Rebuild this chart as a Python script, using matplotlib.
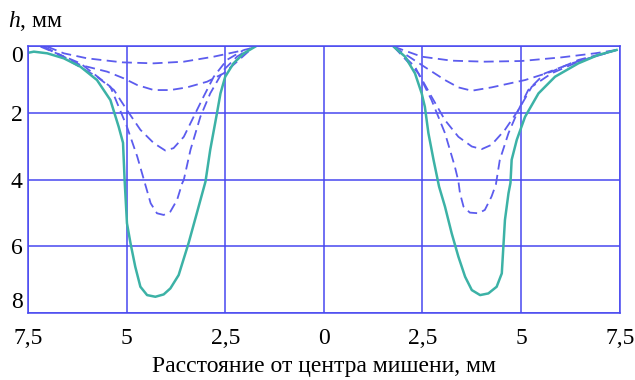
import numpy as np
import matplotlib.pyplot as plt

plt.rcParams['font.family'] = ['Liberation Serif', 'DejaVu Serif']
plt.rcParams['mathtext.fontset'] = 'custom'
plt.rcParams['mathtext.it'] = 'Liberation Serif:italic'

# left crater: solid profile and four intermediate (dashed) profiles
left_solid_x = [-7.56, -7.35, -7.01, -6.59, -6.17, -5.75, -5.41, -5.20, -5.09, -5.05, -4.99, -4.90,
                -4.78, -4.65, -4.48, -4.27, -4.06, -3.89, -3.68, -3.43, -3.22, -3.00, -2.88, -2.71,
                -2.62, -2.50, -2.29, -2.03, -1.74]
left_solid_h = [0.22, 0.17, 0.22, 0.37, 0.62, 1.02, 1.62, 2.42, 2.90, 4.01, 5.31, 5.91,
                6.61, 7.21, 7.46, 7.51, 7.44, 7.26, 6.86, 5.91, 5.01, 4.06, 3.11, 2.02,
                1.42, 0.92, 0.52, 0.22, 0.02]

left_d1_x = [-7.01, -6.59, -6.00, -5.11, -4.31, -3.55, -2.79, -2.20, -1.78]
left_d1_h = [0.02, 0.22, 0.37, 0.49, 0.52, 0.47, 0.32, 0.17, 0.05]
left_d2_x = [-7.10, -6.17, -5.49, -5.07, -4.73, -4.31, -3.89, -3.47, -2.96, -2.54, -2.20, -1.87]
left_d2_h = [0.02, 0.57, 0.77, 0.97, 1.17, 1.32, 1.32, 1.24, 1.07, 0.82, 0.47, 0.12]
left_d3_x = [-7.10, -6.34, -5.75, -5.32, -4.99, -4.65, -4.31, -4.02, -3.81, -3.55, -3.30, -3.05,
             -2.79, -2.46, -2.03]
left_d3_h = [0.02, 0.52, 0.92, 1.32, 1.92, 2.51, 2.91, 3.13, 3.06, 2.72, 2.12, 1.52,
             0.92, 0.42, 0.12]
left_d4_x = [-7.18, -6.17, -5.41, -4.99, -4.73, -4.56, -4.39, -4.23, -4.06, -3.89, -3.72, -3.59,
             -3.55, -3.38, -3.13, -2.88, -2.54, -2.20, -1.87]
left_d4_h = [0.02, 0.52, 1.22, 2.42, 3.31, 4.01, 4.71, 5.01, 5.06, 4.96, 4.61, 4.11,
             4.01, 3.11, 2.12, 1.42, 0.72, 0.32, 0.07]

# right crater
right_solid_x = [1.77, 2.06, 2.31, 2.48, 2.56, 2.65, 2.78, 2.92, 3.07, 3.24, 3.41, 3.58, 3.75,
                 3.96, 4.17, 4.38, 4.51, 4.55, 4.59, 4.68, 4.73, 4.76, 4.89, 5.10, 5.44, 5.86,
                 6.45, 6.95, 7.42]
right_solid_h = [0.02, 0.32, 0.82, 1.42, 1.82, 2.61, 3.41, 4.21, 4.81, 5.61, 6.31, 6.91, 7.31,
                 7.46, 7.41, 7.21, 6.81, 6.01, 5.21, 4.41, 4.10, 3.41, 2.81, 2.12, 1.42, 0.92,
                 0.52, 0.27, 0.12]

right_d1_x = [1.77, 2.48, 3.24, 4.08, 5.01, 6.03, 6.87, 7.42]
right_d1_h = [0.02, 0.32, 0.44, 0.47, 0.45, 0.34, 0.22, 0.12]
right_d2_x = [1.77, 2.48, 3.07, 3.41, 3.75, 4.25, 5.10, 5.77, 6.45, 7.42]
right_d2_h = [0.02, 0.57, 1.02, 1.24, 1.34, 1.24, 1.02, 0.77, 0.42, 0.12]
right_d3_x = [1.77, 2.40, 2.73, 3.07, 3.41, 3.75, 4.00, 4.25, 4.59, 4.93, 5.27, 5.77, 6.45, 7.42]
right_d3_h = [0.02, 0.82, 1.52, 2.22, 2.72, 3.01, 3.09, 2.96, 2.51, 1.92, 1.22, 0.82, 0.47, 0.12]
right_d4_x = [1.77, 2.31, 2.73, 3.07, 3.32, 3.41, 3.45, 3.54, 3.70, 3.92, 4.08, 4.25, 4.36,
              4.46, 4.68, 4.93, 5.18, 5.60, 6.28, 7.42]
right_d4_h = [0.02, 0.62, 1.62, 2.61, 3.61, 4.05, 4.41, 4.81, 4.99, 5.01, 4.91, 4.51, 4.15,
              3.41, 2.61, 1.92, 1.32, 0.82, 0.52, 0.12]

xticks = [-7.5, -5, -2.5, 0, 2.5, 5, 7.5]
xticklabels = ['7,5', '5', '2,5', '0', '2,5', '5', '7,5']
yticks = [0, 2, 4, 6, 8]

grid_c = '#4848f0'
solid_c = '#3cb2a6'
dash_c = '#5c5cee'

fig = plt.figure(figsize=(6.35, 3.8), dpi=100)
ax = fig.add_axes([0.044, 0.176, 0.932, 0.703])

dashed = [(left_d1_x, left_d1_h), (left_d2_x, left_d2_h), (left_d3_x, left_d3_h), (left_d4_x, left_d4_h),
          (right_d1_x, right_d1_h), (right_d2_x, right_d2_h), (right_d3_x, right_d3_h), (right_d4_x, right_d4_h)]
for xs, hs in dashed:
    ax.plot(xs, hs, color=dash_c, lw=1.3, ls=(0, (5.5, 3)), solid_joinstyle='round')
ax.plot(left_solid_x, left_solid_h, color=solid_c, lw=1.8, solid_joinstyle='round')
ax.plot(right_solid_x, right_solid_h, color=solid_c, lw=1.8, solid_joinstyle='round')

ax.set_xlim(-7.5, 7.5)
ax.set_ylim(8, 0)
ax.set_xticks(xticks)
ax.set_xticklabels(xticklabels)
ax.set_yticks(yticks)
ax.grid(True, color=grid_c, lw=1.1)
ax.set_axisbelow(True)
for s in ax.spines.values():
    s.set_color(grid_c)
    s.set_linewidth(1.1)
ax.tick_params(length=0, labelsize=17, pad=4)
ax.tick_params(axis='x', pad=11)
ylabs = ax.get_yticklabels()
ylabs[0].set_va('top')
ylabs[-1].set_va('bottom')

ax.set_xlabel('Расстояние от центра мишени, мм', fontsize=17, labelpad=5)
fig.text(0.012, 0.928, r'$h$, мм', fontsize=17)

fig.savefig('out.png', dpi=100)
